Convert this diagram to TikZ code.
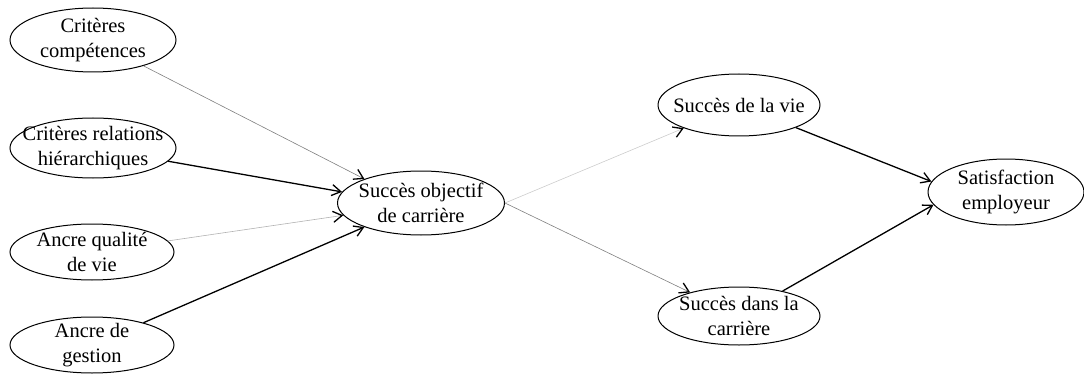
\documentclass[tikz,border=0pt]{standalone}
\usepackage{fontspec}
\setmainfont{Liberation Serif}
\usetikzlibrary{shapes.geometric,arrows.meta}
\tikzset{
    concept/.style={draw,ellipse,line width=1pt,inner xsep=-30pt,inner ysep=-10pt,align=center,
        font=\fontsize{20.5}{25}\selectfont},
    fort/.style={line width=1.3pt,-{Straight Barb[length=9pt,width=11pt,line width=1.3pt]}},
    faible/.style={line width=0.6pt,draw=#1,-{Straight Barb[black,length=9pt,width=11pt,line width=1.3pt]}},
}
\begin{document}
\begin{tikzpicture}[x=1pt,y=-1pt]
    \useasboundingbox (0,0) rectangle (1084,377);
    % facteurs de gauche
    \node[concept,minimum width=166pt,minimum height=64pt] (comp) at (93,40) {Critères\\compétences};
    \node[concept,minimum width=166pt,minimum height=60pt] (rel) at (93,148) {Critères relations\\hiérarchiques};
    \node[concept,minimum width=164pt,minimum height=56pt] (qual) at (92,252) {Ancre qualité\\de vie};
    \node[concept,minimum width=164pt,minimum height=56pt] (gest) at (92,345) {Ancre de\\gestion};
    % centre
    \node[concept,minimum width=167pt,minimum height=64pt] (obj) at (421,203) {Succès objectif\\de carrière};
    \node[concept,minimum width=162pt,minimum height=62pt] (vie) at (739,105) {Succès de la vie};
    \node[concept,minimum width=162pt,minimum height=58pt] (carr) at (739,316) {Succès dans la\\carrière};
    \node[concept,minimum width=156pt,minimum height=66pt] (satis) at (1006,192) {Satisfaction\\employeur};
    % liens
    \draw[faible=gray] (comp) -- (obj.157);
    \draw[fort] (rel) -- (obj.172);
    \draw[faible=gray!60] (qual) -- (obj.189);
    \draw[fort] (gest) -- (obj.203);
    \draw[faible=gray!40] (obj.east) -- (vie);
    \draw[faible=gray] (obj.east) -- (carr);
    \draw[fort] (vie) -- (satis.172);
    \draw[fort] (carr) -- (satis.190);
\end{tikzpicture}
\end{document}
